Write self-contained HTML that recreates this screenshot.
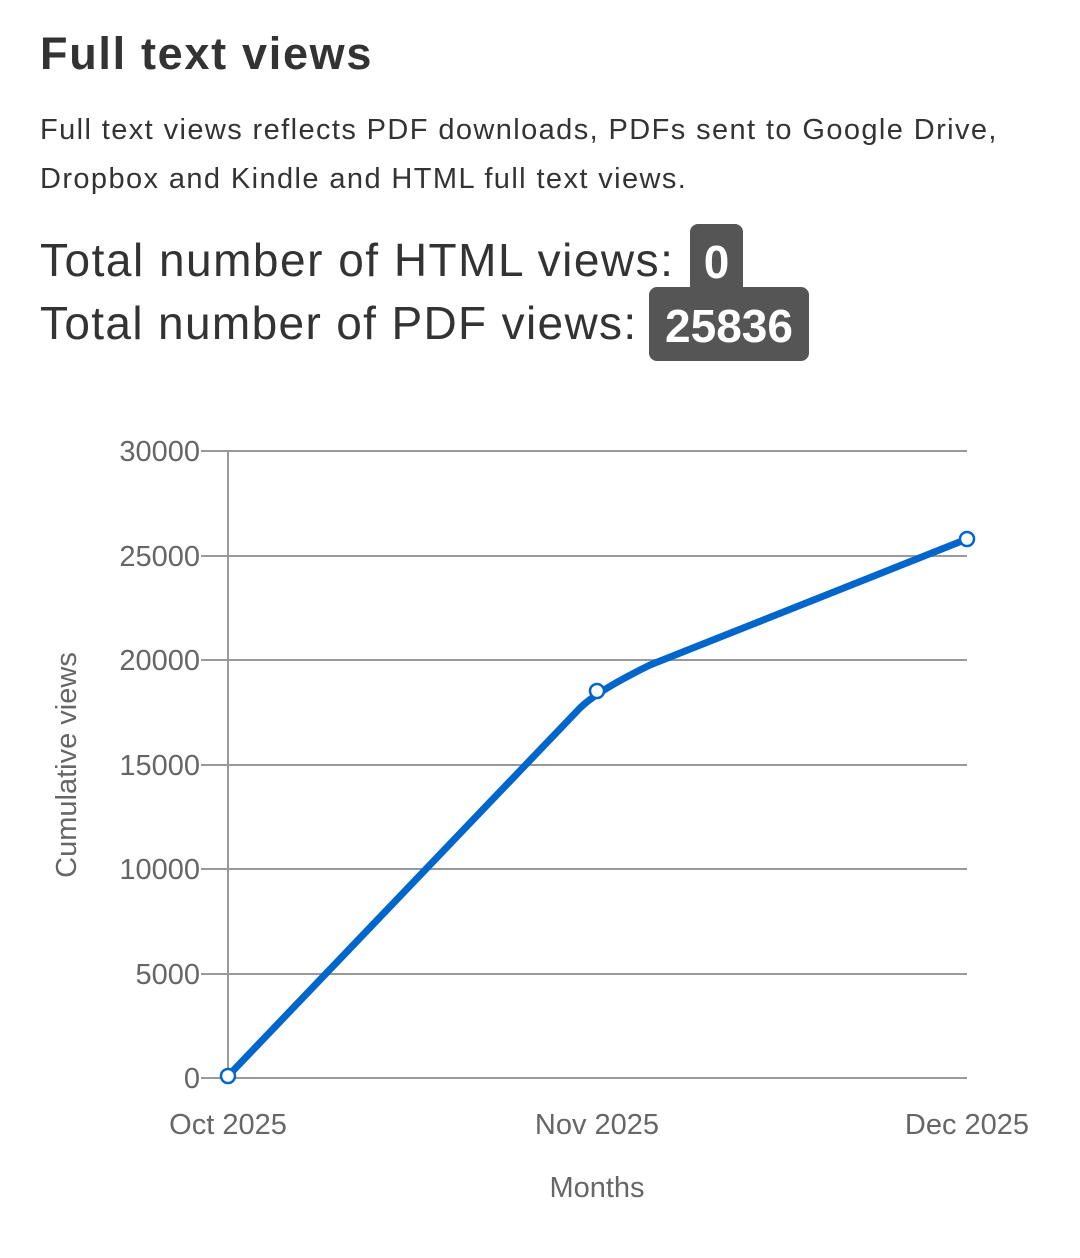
<!DOCTYPE html>
<html><head><meta charset="utf-8"><style>
body{margin:0;width:1080px;height:1258px;background:#fff;font-family:"Liberation Sans",sans-serif;color:#333;position:relative;overflow:hidden}
.t{position:absolute;white-space:nowrap}
.b{background:#555;color:#fff;font-weight:bold;border-radius:8px;display:inline-block}
</style></head><body>
<div class="t" style="left:40px;top:28px;font-size:45px;font-weight:bold;color:#333;letter-spacing:1.7px">Full text views</div>
<div class="t" style="left:40px;top:106px;font-size:29px;line-height:49px;color:#333;letter-spacing:1.4px">Full text views reflects PDF downloads, PDFs sent to Google Drive,<br>Dropbox and Kindle and HTML full text views.</div>
<div class="t" style="left:40px;top:233px;font-size:46px;color:#333;letter-spacing:1.5px">Total number of HTML views:</div>
<div class="t b" style="left:690px;top:224px;width:53px;height:70px;font-size:46px;line-height:76px;text-align:center">0</div>
<div class="t" style="left:40px;top:296px;font-size:46px;color:#333;letter-spacing:1.35px">Total number of PDF views:</div>
<div class="t b" style="left:649px;top:287px;width:160px;height:74px;font-size:46px;line-height:78px;text-align:center">25836</div>
<svg width="1080" height="1258" style="position:absolute;left:0;top:0" font-family="Liberation Sans, sans-serif">
<g stroke="#999" stroke-width="2">
<line x1="201" y1="451" x2="967" y2="451"/><line x1="201" y1="556" x2="967" y2="556"/>
<line x1="201" y1="660" x2="967" y2="660"/><line x1="201" y1="765" x2="967" y2="765"/>
<line x1="201" y1="869" x2="967" y2="869"/><line x1="201" y1="974" x2="967" y2="974"/>
<line x1="201" y1="1078" x2="967" y2="1078"/><line x1="228" y1="451" x2="228" y2="1078"/>
</g>
<g fill="#666" font-size="29" text-anchor="end">
<text x="200" y="461">30000</text><text x="200" y="566">25000</text><text x="200" y="670">20000</text>
<text x="200" y="775">15000</text><text x="200" y="879">10000</text><text x="200" y="984">5000</text><text x="200" y="1088">0</text>
</g>
<g fill="#666" font-size="29" text-anchor="middle">
<text x="228" y="1134">Oct 2025</text><text x="597" y="1134">Nov 2025</text><text x="967" y="1134">Dec 2025</text>
<text x="597" y="1197">Months</text>
<text transform="translate(76,765) rotate(-90)">Cumulative views</text>
</g>
<path d="M228,1076 L580,708 Q597,691 650,665 L967,539" fill="none" stroke="#0066cc" stroke-width="7" stroke-linejoin="round"/>
<g fill="#fff" stroke="#0066cc" stroke-width="2.5">
<circle cx="228" cy="1076" r="7"/><circle cx="597" cy="691" r="7"/><circle cx="967" cy="539" r="7"/>
</g>
</svg>
</body></html>
